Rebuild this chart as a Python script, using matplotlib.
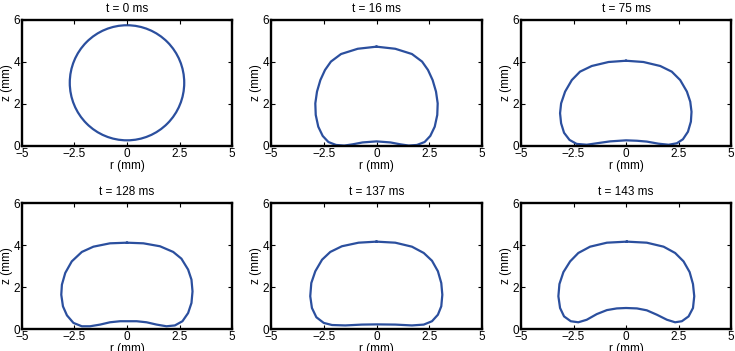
import matplotlib
matplotlib.use("Agg")
import matplotlib.pyplot as plt
from matplotlib.patches import Ellipse

plt.rcParams['font.family'] = ['Liberation Sans', 'DejaVu Sans']
plt.rcParams['font.size'] = 8.5

# panel titles (time after release)
titles = ['t = 0 ms', 't = 16 ms', 't = 75 ms', 't = 128 ms', 't = 137 ms', 't = 143 ms']

# t = 0: spherical drop (center z, width, height)
drop0_z = 3.01
drop0_w = 5.45
drop0_h = 5.48

# drop outlines, (r, z) in mm, closed loops
r16 = [0, 0.89, 1.68, 2.16, 2.44, 2.66, 2.82, 2.9, 2.88, 2.76, 2.55, 2.28, 1.92, 1.53, 1.13, 0.66, 0,
       -0.66, -1.13, -1.53, -1.92, -2.28, -2.55, -2.76, -2.88, -2.9, -2.82, -2.66, -2.44, -2.16, -1.68, -0.89, 0]
z16 = [4.73, 4.63, 4.38, 4.02, 3.62, 3.14, 2.59, 2.03, 1.48, 0.92, 0.48, 0.19, 0.05, 0.02, 0.08, 0.17, 0.22,
       0.17, 0.08, 0.02, 0.05, 0.19, 0.48, 0.92, 1.48, 2.03, 2.59, 3.14, 3.62, 4.02, 4.38, 4.63, 4.73]

r75 = [0, 0.83, 1.63, 2.18, 2.58, 2.9, 3.06, 3.12, 3.09, 2.95, 2.71, 2.42, 2.03, 1.55, 0.99, 0.52, 0,
       -0.76, -1.39, -1.87, -2.35, -2.69, -2.95, -3.09, -3.14, -3.09, -2.9, -2.58, -2.19, -1.63, -0.83, 0]
z75 = [4.06, 4.0, 3.81, 3.54, 3.14, 2.59, 2.11, 1.63, 1.16, 0.68, 0.32, 0.13, 0.06, 0.11, 0.21, 0.25, 0.27,
       0.22, 0.13, 0.06, 0.1, 0.29, 0.63, 1.08, 1.56, 2.03, 2.59, 3.14, 3.54, 3.81, 4.0, 4.06]

r128 = [0, 0.78, 1.57, 2.2, 2.59, 2.91, 3.07, 3.12, 3.07, 2.91, 2.64, 2.28, 1.88, 1.41, 0.93, 0.46, 0,
        -0.33, -0.81, -1.28, -1.76, -2.15, -2.55, -2.86, -3.05, -3.13, -3.1, -2.94, -2.63, -2.15, -1.6, -0.81, 0]
z128 = [4.11, 4.08, 3.94, 3.67, 3.35, 2.83, 2.35, 1.79, 1.24, 0.76, 0.37, 0.17, 0.13, 0.21, 0.32, 0.37, 0.37,
        0.37, 0.32, 0.21, 0.13, 0.13, 0.29, 0.65, 1.08, 1.63, 2.11, 2.67, 3.22, 3.67, 3.92, 4.08, 4.11]

r137 = [0, 0.89, 1.68, 2.24, 2.63, 2.91, 3.07, 3.12, 3.07, 2.91, 2.63, 2.24, 1.68, 0.89, 0,
        -0.69, -1.48, -2.11, -2.5, -2.85, -3.06, -3.14, -3.09, -2.9, -2.58, -2.19, -1.64, -0.85, 0]
z137 = [4.16, 4.11, 3.92, 3.62, 3.25, 2.75, 2.19, 1.63, 1.08, 0.68, 0.37, 0.21, 0.17, 0.21, 0.22,
        0.21, 0.17, 0.19, 0.29, 0.56, 1.0, 1.56, 2.19, 2.75, 3.3, 3.67, 3.94, 4.11, 4.16]

r143 = [0.04, 0.99, 1.79, 2.34, 2.74, 3.03, 3.19, 3.25, 3.19, 2.98, 2.66, 2.34, 1.95, 1.47, 0.99, 0.52, 0,
        -0.44, -0.91, -1.39, -1.87, -2.27, -2.63, -2.95, -3.14, -3.22, -3.17, -2.98, -2.66, -2.27, -1.71, -0.91, 0.04]
z143 = [4.16, 4.11, 3.92, 3.62, 3.22, 2.71, 2.14, 1.56, 1.0, 0.6, 0.37, 0.32, 0.44, 0.68, 0.89, 0.98, 1.0,
        0.98, 0.9, 0.71, 0.44, 0.32, 0.37, 0.6, 1.0, 1.56, 2.14, 2.71, 3.22, 3.62, 3.92, 4.11, 4.16]

outlines = [None, (r16, z16), (r75, z75), (r128, z128), (r137, z137), (r143, z143)]

xticks = [-5, -2.5, 0, 2.5, 5]
xticklabels = ['\u22125', '\u22122.5', '0', '2.5', '5']
yticks = [0, 2, 4, 6]

line_color = '#2b4f9e'

fig = plt.figure(figsize=(7.35, 3.51), dpi=100)

# axes boxes in pixels (left, top, right, bottom)
col_px = [(22, 232), (271, 482), (521, 731)]
row_px = [(20, 146), (203, 329)]
W, H = 735.0, 351.0

for i in range(6):
    row, col = divmod(i, 3)
    x0, x1 = col_px[col]
    y0, y1 = row_px[row]
    ax = fig.add_axes([x0 / W, (H - y1) / H, (x1 - x0) / W, (y1 - y0) / H])

    if outlines[i] is None:
        ax.add_patch(Ellipse((0, drop0_z), drop0_w, drop0_h, fill=False,
                             edgecolor=line_color, lw=1.6))
    else:
        r, z = outlines[i]
        ax.plot(r, z, color=line_color, lw=1.6, solid_joinstyle='round')

    ax.set_xlim(-5, 5)
    ax.set_ylim(0, 6)
    ax.set_xticks(xticks)
    ax.set_xticklabels(xticklabels)
    ax.set_yticks(yticks)
    ax.tick_params(direction='in', length=3, width=0.8, top=True, right=True,
                   pad=1.5, labelsize=8.5)
    for s in ax.spines.values():
        s.set_linewidth(1.7)
    ax.set_title(titles[i], fontsize=8.5, pad=6)
    ax.set_xlabel('r (mm)', labelpad=0)
    ax.set_ylabel('z (mm)', labelpad=0)

fig.savefig('out.png', dpi=100)
